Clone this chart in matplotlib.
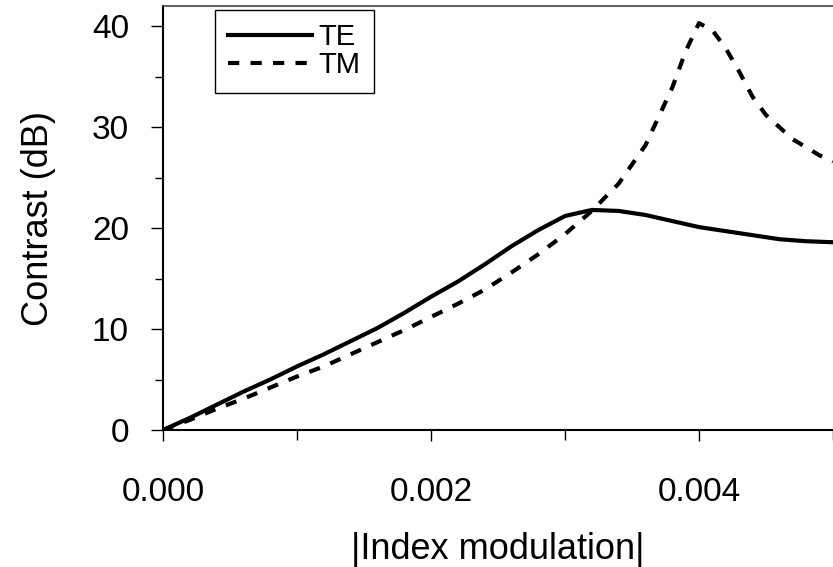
import matplotlib
matplotlib.use("Agg")
import matplotlib.pyplot as plt
from matplotlib.ticker import MultipleLocator, FormatStrFormatter

# |Index modulation| sample points
x_te = [0.0, 0.0002, 0.0004, 0.0006, 0.0008, 0.0010, 0.0012, 0.0014, 0.0016, 0.0018,
        0.0020, 0.0022, 0.0024, 0.0026, 0.0028, 0.0030, 0.0032, 0.0034, 0.0036, 0.0038,
        0.0040, 0.0042, 0.0044, 0.0046, 0.0048, 0.0050]
contrast_te = [0.0, 1.2, 2.5, 3.8, 5.0, 6.3, 7.5, 8.8, 10.1, 11.6,
               13.2, 14.7, 16.4, 18.2, 19.8, 21.2, 21.8, 21.7, 21.3, 20.7,
               20.1, 19.7, 19.3, 18.9, 18.7, 18.6]

x_tm = [0.0, 0.0002, 0.0004, 0.0006, 0.0008, 0.0010, 0.0012, 0.0014, 0.0016, 0.0018,
        0.0020, 0.0022, 0.0024, 0.0026, 0.0028, 0.0030, 0.0032, 0.0034, 0.0036, 0.0038,
        0.0039, 0.0040, 0.0041, 0.0042, 0.0043, 0.0044, 0.0045, 0.0046, 0.0047, 0.0048,
        0.0049, 0.0050]
contrast_tm = [0.0, 1.0, 2.1, 3.1, 4.2, 5.3, 6.3, 7.5, 8.7, 9.9,
               11.2, 12.5, 13.9, 15.6, 17.4, 19.4, 21.7, 24.4, 28.2, 33.9,
               37.5, 40.3, 39.6, 37.8, 35.5, 33.0, 31.2, 30.0, 28.8, 28.0,
               27.2, 26.6]

plt.rcParams["font.family"] = ["Liberation Sans", "DejaVu Sans"]

fig = plt.figure(figsize=(8.33, 5.67), dpi=100)
ax = fig.add_axes([0.1957, 0.2416, 0.8043, 0.7478])

ax.plot(x_te, contrast_te, color="black", lw=3.0, linestyle="-", label="TE")
ax.plot(x_tm, contrast_tm, color="black", lw=3.0, linestyle=(0, (2.7, 2.7)), label="TM")

ax.set_xlim(0, 0.005)
ax.set_ylim(0, 42)
ax.xaxis.set_major_locator(MultipleLocator(0.002))
ax.xaxis.set_minor_locator(MultipleLocator(0.001))
ax.xaxis.set_major_formatter(FormatStrFormatter("%.3f"))
ax.yaxis.set_major_locator(MultipleLocator(10))
ax.yaxis.set_minor_locator(MultipleLocator(5))

ax.tick_params(axis="both", which="both", direction="out", width=1.0, labelsize=24)
ax.tick_params(axis="x", which="major", length=8, pad=26)
ax.tick_params(axis="x", which="minor", length=7)
ax.tick_params(axis="y", which="major", length=8.5, pad=16)
ax.tick_params(axis="y", which="minor", length=6)

ax.spines["right"].set_visible(False)
ax.spines["top"].set_color("#444444")
ax.spines["top"].set_linewidth(1.2)
ax.spines["left"].set_linewidth(1.5)
ax.spines["bottom"].set_linewidth(1.5)

ax.set_xlabel("|Index modulation|", fontsize=26, labelpad=17)
ax.set_ylabel("Contrast (dB)", fontsize=26, labelpad=26)

leg = ax.legend(loc="upper left", bbox_to_anchor=(0.078, 0.99), fontsize=21,
                handlelength=2.85, handletextpad=0.25, labelspacing=0.0,
                borderpad=0.45, borderaxespad=0, fancybox=False,
                edgecolor="black", framealpha=1)
leg.get_frame().set_linewidth(1.0)

plt.savefig("out.png", dpi=100)
